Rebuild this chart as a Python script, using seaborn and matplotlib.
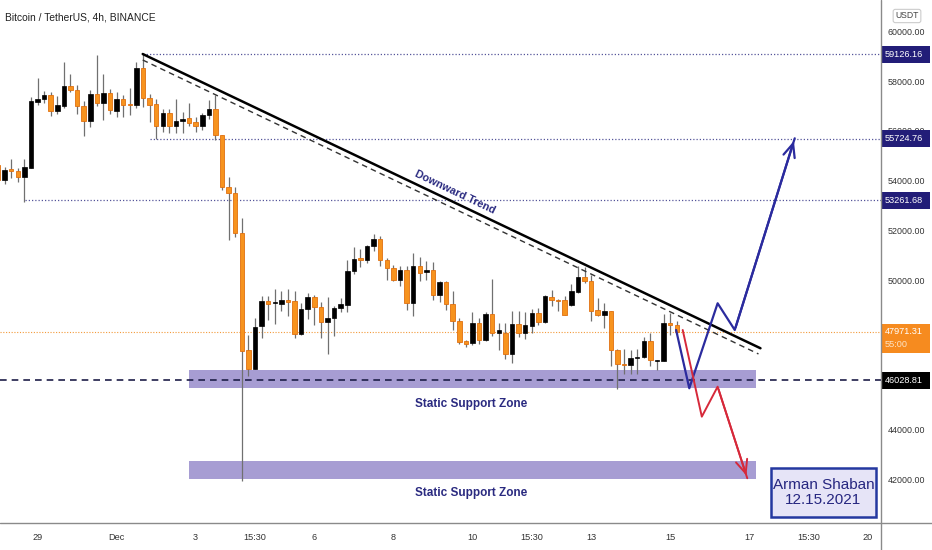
import matplotlib
matplotlib.use('Agg')
import matplotlib.pyplot as plt
import matplotlib.transforms as mtransforms
from matplotlib.patches import Rectangle
from matplotlib.lines import Line2D
import seaborn as sns
import numpy as np

# 4h BTCUSDT candles (index 0 = Nov 28 00:00)
opens = [54667, 54067, 54493, 54427, 54200, 54560, 57200, 57307, 57467, 56827,
         57040, 57827, 57693, 57027, 56427, 57533, 57173, 57573, 56840, 57307,
         57133, 57093, 58560, 57373, 57107, 56240, 56760, 56240, 56427, 56560,
         56400, 56240, 56667, 56907, 55893, 53800, 53560, 51960, 47227, 46467,
         48200, 49200, 49133, 49107, 49240, 49200, 47893, 48893, 49360, 48973,
         48360, 48533, 48933, 49067, 50400, 50933, 50840, 51427, 51693, 50840,
         50533, 50040, 50440, 49133, 50627, 50373, 50440, 49467, 49973, 49107,
         48427, 47600, 47533, 48333, 47667, 48693, 47933, 47933, 47067, 48293,
         47933, 48200, 48733, 48373, 49360, 49267, 49267, 49067, 49573, 50160,
         50027, 48867, 48667, 48800, 47227, 46693, 46640, 46933, 46960, 47627,
         46800, 46800, 48333, 48240]
highs = [54800, 54600, 54907, 54560, 54933, 57400, 58160, 57627, 57600, 57440,
         58800, 58307, 57893, 57227, 57667, 59107, 58307, 57733, 57600, 57467,
         57760, 58800, 59126, 57533, 57333, 56933, 56907, 57307, 56800, 57160,
         56600, 56760, 57267, 57467, 55893, 54200, 53800, 52533, 47867, 48533,
         49400, 49400, 49693, 49600, 49693, 49600, 49133, 49533, 49467, 49160,
         49373, 49000, 49333, 50867, 51373, 51293, 51467, 51907, 51827, 50933,
         50667, 50627, 50627, 51133, 50960, 50827, 50760, 50000, 50027, 49627,
         48533, 47667, 48773, 48533, 48773, 50107, 48333, 48333, 48827, 48827,
         48773, 48907, 48933, 49467, 49667, 49307, 49400, 49907, 50600, 50560,
         50267, 49333, 49133, 48827, 47267, 47267, 47227, 47267, 47760, 47933,
         46840, 48693, 48733, 48427]
lows = [53900, 53893, 54133, 54000, 53200, 54560, 57093, 57173, 56640, 56733,
        56973, 57600, 56733, 55840, 56200, 57040, 56467, 56733, 56600, 56600,
        56667, 56960, 57000, 56400, 55733, 56000, 55973, 55973, 55973, 56240,
        56000, 56067, 56533, 55667, 53667, 51667, 51800, 42000, 46200, 46467,
        47733, 48440, 48307, 48800, 48627, 47733, 47850, 48493, 48240, 47733,
        47093, 47827, 48760, 48760, 50307, 50573, 50733, 51240, 50600, 50040,
        50000, 49800, 48840, 48600, 50027, 50067, 49267, 49173, 48867, 48067,
        47493, 47360, 47440, 47507, 47600, 47800, 47227, 46867, 46733, 47760,
        47707, 47933, 48240, 48333, 49000, 48800, 48640, 49000, 49533, 49933,
        48400, 48600, 48133, 46600, 45693, 46267, 46293, 46293, 46933, 46600,
        46427, 46800, 47840, 47893]
closes = [54067, 54467, 54427, 54200, 54573, 57227, 57307, 57467, 56827, 57093,
          57827, 57667, 57027, 56427, 57533, 57173, 57573, 56867, 57333, 57093,
          57093, 58560, 57373, 57093, 56240, 56760, 56240, 56440, 56533, 56373,
          56240, 56667, 56907, 55893, 53773, 53560, 51960, 47200, 46467, 48173,
          49200, 49107, 49160, 49240, 49173, 47893, 48893, 49360, 48973, 48360,
          48533, 48933, 49093, 50400, 50907, 50867, 51427, 51693, 50840, 50533,
          50040, 50467, 49133, 50600, 50333, 50440, 49467, 49973, 49107, 48427,
          47573, 47507, 48333, 47667, 48693, 47933, 48067, 47067, 48293, 47933,
          48240, 48733, 48373, 49400, 49267, 49227, 48667, 49600, 50160, 50000,
          48827, 48667, 48800, 47227, 46693, 46640, 46933, 46960, 47627, 46827,
          46840, 48333, 48240, 47971]

# time axis
tick_pos = [6, 18, 30, 39, 48, 60, 72, 81, 90, 102, 114, 123, 132]
tick_labels = ['29', 'Dec', '3', '15:30', '6', '8', '10', '15:30', '13', '15', '17', '15:30', '20']
# 46000 and 48000 sit under the price tags in the picture
price_ticks = [42000, 44000, 50000, 52000, 54000, 56000, 58000, 60000]

# drawn levels / tools
levels = [59126.16, 55724.76, 53261.68]
level_start = [22, 23.1, 4.1]
support = 46028.81
last_price = 47971.31
trend_x = [21.96, 115.7]
trend_y = [59129, 47316]
trend2_x = [21.96, 115.4]
trend2_y = [58888, 47087]
zone1 = (29, 115, 45710, 46449)
zone2 = (29, 115, 42057, 42804)
up_x = [102.9, 104.9, 109.2, 111.8, 120.9]
up_y = [48050, 45710, 49122, 48050, 55745]
down_x = [103.9, 106.8, 109.2, 113.7]
down_y = [48050, 44570, 45774, 42097]

W, H = 932, 550
PX = 6.59          # px per candle
YMAX, YMIN = 61297, 40313

sns.set_theme(style='white')
plt.rcParams['font.family'] = ['Liberation Sans', 'DejaVu Sans']

fig = plt.figure(figsize=(W / 100, H / 100), dpi=100)
fig.patch.set_facecolor('white')
ax = fig.add_axes([0, 27.3 / H, 881 / W, 522.7 / H])
ax.set_facecolor('white')
ax.set_xlim(2 / PX, 883 / PX)
ax.set_ylim(YMIN, YMAX)
for s in ax.spines.values():
    s.set_visible(False)
ax.set_xticks([])
ax.set_yticks([])

blend_r = mtransforms.blended_transform_factory(ax.transAxes, ax.transData)
blend_b = mtransforms.blended_transform_factory(ax.transData, ax.transAxes)

# zones
for z in (zone1, zone2):
    ax.add_patch(Rectangle((z[0], z[2]), z[1] - z[0], z[3] - z[2],
                           facecolor='#a79dd3', edgecolor='none', zorder=1))

# horizontal levels
for lv, st in zip(levels, level_start):
    ax.plot([st, 140], [lv, lv], color='#55559a', lw=0.9, ls=(0, (1, 1.6)), zorder=2)
ax.axhline(last_price, color='#f39a3a', lw=0.8, ls=(0, (1, 1.5)), zorder=2)
ax.axhline(support, color='#1e1e48', lw=1.2, ls=(0, (4, 3)), zorder=2)

# candles
x = np.arange(len(opens))
o = np.array(opens); c = np.array(closes)
up = c >= o
ax.vlines(x, lows, highs, color='#707070', lw=0.9, zorder=3)
body_lo = np.minimum(o, c)
body_h = np.maximum(np.abs(c - o), 40)
ax.bar(x[up], body_h[up], bottom=body_lo[up], width=0.68,
       color='#000000', edgecolor='#000000', lw=0.5, zorder=4)
ax.bar(x[~up], body_h[~up], bottom=body_lo[~up], width=0.68,
       color='#f7931e', edgecolor='#e07010', lw=0.6, zorder=4)

# trend lines
ax.plot(trend_x, trend_y, color='black', lw=1.8, zorder=5)
ax.plot(trend2_x, trend2_y, color='#333333', lw=1.0, ls=(0, (4, 3)), zorder=5)

# scenario paths
sns.lineplot(x=up_x, y=up_y, sort=False, estimator=None, color='#2b2b9e', lw=1.6, ax=ax, zorder=6)
sns.lineplot(x=down_x, y=down_y, sort=False, estimator=None, color='#d6293a', lw=1.4, ax=ax, zorder=6)
ax.annotate('', xy=(up_x[-1], up_y[-1]), xytext=(up_x[-2], up_y[-2]),
            arrowprops=dict(arrowstyle='->,head_length=0.8,head_width=0.35', color='#2b2b9e', lw=1.6),
            zorder=6)
ax.annotate('', xy=(down_x[-1], down_y[-1]), xytext=(down_x[-2], down_y[-2]),
            arrowprops=dict(arrowstyle='->,head_length=0.8,head_width=0.35', color='#d6293a', lw=1.4),
            zorder=6)

# texts
ax.text(69.35, 53590, 'Downward Trend', rotation=-25.5, rotation_mode='anchor',
        ha='center', va='center', fontsize=7.8, fontweight='bold', color='#2a2a80', zorder=7)
ax.text(71.8, 45080, 'Static Support Zone', ha='center', va='center',
        fontsize=8.5, fontweight='bold', color='#2a2a80', zorder=7)
ax.text(71.8, 41507, 'Static Support Zone', ha='center', va='center',
        fontsize=8.5, fontweight='bold', color='#2a2a80', zorder=7)

ax.add_patch(Rectangle((117.3, 40543), 15.9, 1967, facecolor='#e6e4f7',
                       edgecolor='#2438a0', lw=1.8, zorder=7, clip_on=False))
ax.text(125.25, 41527, 'Arman Shaban\n12.15.2021', ha='center', va='center',
        fontsize=11, color='#262680', linespacing=1.1, zorder=8)

# time labels
for p, lab in zip(tick_pos, tick_labels):
    ax.text(p, -(537 - 522.7) / 522.7, lab, transform=blend_b, ha='center', va='center',
            fontsize=6.6, color='#333333', clip_on=False)

# price labels
for v in price_ticks:
    ax.text(1 + 7 / 881, v, f'{v:.2f}', transform=blend_r, ha='left', va='center',
            fontsize=6.4, color='#333333', clip_on=False)

PPX = 40.14  # price per pixel


def price_tag(price, text, face, up_px=8.5, down_px=8.5):
    ax.add_patch(Rectangle((1.0, price - down_px * PPX), 49 / 881, (up_px + down_px) * PPX,
                           transform=blend_r, facecolor=face, edgecolor='none',
                           clip_on=False, zorder=9))
    ax.text(1 + 4 / 881, price, text, transform=blend_r, ha='left', va='center',
            fontsize=6.6, color='white', clip_on=False, zorder=10)


for lv in levels:
    price_tag(lv, f'{lv:.2f}', '#221d78')
price_tag(last_price, f'{last_price:.2f}', '#f68b1f', up_px=8.4, down_px=20.7)
ax.text(1 + 4 / 881, last_price - 13 * PPX, '55:00', transform=blend_r, ha='left',
        va='center', fontsize=6.6, color='#fde3c4', clip_on=False, zorder=10)
price_tag(support, f'{support:.2f}', '#000000')

# frame lines
fig.add_artist(Line2D([881 / W, 881 / W], [0, 1], color='#8a8a8a', lw=1.0))
fig.add_artist(Line2D([0, 1], [27.3 / H, 27.3 / H], color='#8a8a8a', lw=1.0))

fig.text(5 / W, 1 - 17 / H, 'Bitcoin / TetherUS, 4h, BINANCE', ha='left', va='center',
         fontsize=7.4, color='#222222')
fig.text(907 / W, 1 - 16 / H, 'USDT', ha='center', va='center', fontsize=6.2, color='#444444',
         bbox=dict(boxstyle='round,pad=0.25', facecolor='white', edgecolor='#cccccc', lw=0.8))

fig.savefig('out.png', dpi=100, facecolor='white')
